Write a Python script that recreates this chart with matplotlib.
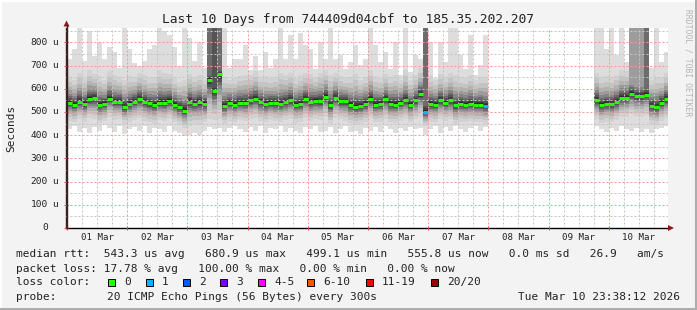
# smokeping style 10 day graph, redrawn with matplotlib
import matplotlib
matplotlib.use("Agg")
import matplotlib.pyplot as plt
import numpy as np
from matplotlib import transforms
from matplotlib.patches import Rectangle, Polygon
from matplotlib.lines import Line2D

nan = np.nan

# one value per 2 hour bin, hour 0 = 01 Mar 00:00 (12 bins per day)
median_us = [
    540, 532, 545, 535, 555, 560, 530, 535, 558, 545, 545, 520,
    535, 545, 555, 545, 537, 532, 540, 540, 548, 532, 520, 505,
    545, 536, 543, 535, 640, 590, 665, 525, 540, 532, 540, 540,
    550, 558, 543, 535, 540, 538, 535, 543, 550, 532, 535, 555,
    543, 548, 546, 565, 528, 560, 546, 546, 530, 522, 526, 535,
    555, 532, 535, 555, 535, 532, 540, 550, 532, 550, 576, 500,
    535, 532, 550, 540, 550, 528, 535, 532, 535, 532, 532, 525,
    nan, nan, nan, nan, nan, nan, nan, nan, nan, nan, nan, nan,
    nan, nan, nan, nan, nan, nan, nan, nan, nan, 550, 530, 535,
    533, 543, 560, 562, 578, 568, 568, 575, 525, 520, 540, 555,
]
# highest ping of each bin (outer smoke top)
max_us = [
    730, 770, 860, 720, 850, 740, 800, 730, 780, 760, 690, 860,
    770, 710, 700, 720, 770, 790, 860, 850, 830, 780, 700, 860,
    820, 720, 800, 690, 900, 900, 900, 862, 690, 730, 730, 790,
    680, 740, 680, 760, 690, 730, 862, 730, 830, 730, 840, 790,
    773, 687, 802, 730, 862, 730, 744, 687, 716, 787, 701, 730,
    862, 787, 716, 759, 687, 802, 659, 862, 673, 744, 730, 900,
    802, 645, 802, 716, 862, 862, 744, 687, 830, 659, 701, 830,
    nan, nan, nan, nan, nan, nan, nan, nan, nan, nan, nan, nan,
    nan, nan, nan, nan, nan, nan, nan, nan, nan, 862, 862, 773,
    862, 744, 862, 716, 900, 900, 900, 900, 690, 862, 716, 760,
]
# lowest ping of each bin (outer smoke bottom)
min_us = [
    425, 440, 415, 430, 410, 435, 420, 445, 430, 415, 440, 405,
    425, 435, 420, 440, 410, 430, 425, 415, 440, 420, 410, 395,
    400, 410, 400, 420, 435, 425, 430, 415, 430, 440, 425, 415,
    435, 420, 440, 410, 430, 425, 440, 415, 430, 420, 410, 435,
    425, 440, 415, 420, 435, 410, 425, 440, 415, 420, 405, 430,
    420, 435, 415, 440, 425, 410, 430, 420, 435, 425, 430, 400,
    425, 440, 410, 435, 420, 440, 425, 415, 430, 440, 420, 435,
    nan, nan, nan, nan, nan, nan, nan, nan, nan, nan, nan, nan,
    nan, nan, nan, nan, nan, nan, nan, nan, nan, 440, 425, 415,
    430, 420, 440, 425, 420, 430, 415, 425, 410, 425, 430, 440,
]
# spread of the bulk of the pings (second ping from top / bottom)
upper_us = [
    650, 640, 670, 645, 680, 665, 655, 640, 675, 660, 650, 640,
    655, 650, 670, 660, 645, 650, 680, 670, 665, 645, 630, 640,
    665, 650, 660, 640, 720, 700, 740, 650, 640, 645, 655, 660,
    660, 675, 650, 655, 645, 650, 670, 660, 670, 645, 660, 670,
    665, 650, 670, 680, 660, 670, 655, 645, 650, 665, 640, 650,
    680, 655, 645, 665, 650, 660, 640, 680, 640, 660, 690, 640,
    655, 640, 665, 650, 670, 660, 650, 645, 660, 640, 650, 650,
    nan, nan, nan, nan, nan, nan, nan, nan, nan, nan, nan, nan,
    nan, nan, nan, nan, nan, nan, nan, nan, nan, 670, 650, 655,
    650, 660, 680, 675, 690, 680, 680, 690, 640, 650, 645, 670,
]
lower_us = [
    462, 455, 470, 458, 475, 468, 452, 460, 478, 465, 470, 450,
    458, 466, 472, 462, 455, 450, 465, 460, 470, 455, 445, 430,
    440, 450, 445, 455, 470, 465, 470, 450, 462, 455, 465, 460,
    470, 475, 462, 455, 466, 460, 458, 465, 470, 452, 458, 475,
    462, 470, 465, 480, 450, 476, 468, 462, 452, 445, 450, 458,
    472, 455, 458, 470, 455, 452, 462, 470, 455, 468, 480, 440,
    458, 455, 470, 462, 468, 450, 458, 455, 460, 455, 455, 450,
    nan, nan, nan, nan, nan, nan, nan, nan, nan, nan, nan, nan,
    nan, nan, nan, nan, nan, nan, nan, nan, nan, 470, 452, 458,
    455, 465, 478, 480, 490, 482, 480, 488, 450, 445, 462, 472,
]
# pings per bin that went above the top of the graph
high_pings = [
    0, 0, 0, 0, 0, 0, 0, 0, 0, 0, 0, 0,
    0, 0, 0, 0, 0, 0, 0, 0, 0, 0, 0, 0,
    0, 0, 0, 0, 7, 8, 7, 0, 0, 0, 0, 0,
    0, 0, 0, 0, 0, 0, 0, 0, 0, 0, 0, 0,
    0, 0, 0, 0, 0, 0, 0, 0, 0, 0, 0, 0,
    0, 0, 0, 0, 0, 0, 0, 0, 0, 0, 0, 7,
    0, 0, 0, 0, 0, 0, 0, 0, 0, 0, 0, 0,
    0, 0, 0, 0, 0, 0, 0, 0, 0, 0, 0, 0,
    0, 0, 0, 0, 0, 0, 0, 0, 0, 0, 0, 0,
    0, 0, 0, 0, 5, 5, 5, 7, 0, 0, 0, 0,
]
# lost pings out of 20 per bin
loss = [
    0, 0, 0, 0, 0, 0, 0, 0, 0, 0, 0, 0,
    0, 0, 0, 0, 0, 0, 0, 0, 0, 0, 0, 0,
    0, 0, 0, 0, 0, 0, 0, 0, 0, 0, 0, 0,
    0, 0, 0, 0, 0, 0, 0, 0, 0, 0, 0, 0,
    0, 0, 0, 0, 0, 0, 0, 0, 0, 0, 0, 0,
    0, 0, 0, 0, 0, 0, 0, 0, 0, 0, 0, 1,
    0, 0, 0, 0, 0, 0, 0, 0, 0, 0, 0, 1,
    0, 0, 0, 0, 0, 0, 0, 0, 0, 0, 0, 0,
    0, 0, 0, 0, 0, 0, 0, 0, 0, 0, 0, 0,
    0, 0, 0, 0, 0, 0, 0, 0, 0, 0, 0, 0,
]

day_labels = ["01 Mar", "02 Mar", "03 Mar", "04 Mar", "05 Mar",
              "06 Mar", "07 Mar", "08 Mar", "09 Mar", "10 Mar"]
y_ticks = [0, 100, 200, 300, 400, 500, 600, 700, 800]

loss_names = ["0", "1", "2", "3", "4-5", "6-10", "11-19", "20/20"]
loss_colors = ["#26FF00", "#00B8FF", "#0059FF", "#7E00FF",
               "#FF00FF", "#FF5500", "#FF0000", "#A10000"]

title = "Last 10 Days from 744409d04cbf to 185.35.202.207"
rtt_line = "median rtt:  543.3 us avg   680.9 us max   499.1 us min   555.8 us now   0.0 ms sd   26.9   am/s"
loss_line = "packet loss: 17.78 % avg   100.00 % max   0.00 % min   0.00 % now"
probe_text = "20 ICMP Echo Pings (56 Bytes) every 300s"
stamp = "Tue Mar 10 23:38:12 2026"

MONO = "DejaVu Sans Mono"
W, H = 697, 310
YTOP = 862


def fx(px):
    return px / W


def fy(py):
    return 1 - py / H


def loss_index(n):
    if n <= 3:
        return int(n)
    if n <= 5:
        return 4
    if n <= 10:
        return 5
    if n <= 19:
        return 6
    return 7


fig = plt.figure(figsize=(W / 100, H / 100), dpi=100)
fig.patch.set_facecolor("#F3F3F3")
ax = fig.add_axes([fx(66), fy(228), 602 / W, 200 / H])
ax.set_facecolor("white")

med = np.array(median_us, dtype=float)
hi = np.array(max_us, dtype=float)
lo = np.array(min_us, dtype=float)
up = np.array(upper_us, dtype=float)
dn = np.array(lower_us, dtype=float)
high = np.array(high_pings)
starts = np.arange(len(med)) * 2.0
ok = ~np.isnan(med)

# smoke: outer band first, then darker bands toward the median
ax.bar(starts[ok], (hi - lo)[ok], bottom=lo[ok], width=2, align="edge",
       color="#DDDDDD", linewidth=0, antialiased=False, zorder=1)
fracs = [1.0, 0.8, 0.62, 0.48, 0.36, 0.26, 0.18, 0.11, 0.06]
shades = ["#D2D2D2", "#C4C4C4", "#B2B2B2", "#9C9C9C", "#858585",
          "#6C6C6C", "#545454", "#3E3E3E", "#2A2A2A"]
for b, (r, c) in enumerate(zip(fracs, shades), start=1):
    top = med + (up - med) * r
    top = np.where(high > b, YTOP + 40, top)
    bot = med - (med - dn) * r
    ax.bar(starts[ok], (top - bot)[ok], bottom=bot[ok], width=2, align="edge",
           color=c, linewidth=0, antialiased=False, zorder=2)

cols = [loss_colors[loss_index(n)] for n in loss]
cols = [c for c, v in zip(cols, ok) if v]
ax.hlines(med[ok], starts[ok], starts[ok] + 2, colors=cols, linewidth=2.2,
          zorder=5)

ax.set_xlim(-0.37, 239.63)
ax.set_ylim(0, YTOP)

ax.set_xticks(np.arange(0, 240, 24))
ax.set_xticks(np.arange(0, 240, 6), minor=True)
ax.set_yticks(y_ticks)
ax.set_yticks(np.arange(0, YTOP, 50), minor=True)
ax.set_xticklabels([])
ax.set_yticklabels([])
ax.tick_params(which="major", length=3, width=0.7, color="#D05050",
               direction="inout")
ax.tick_params(which="minor", length=0)
ax.set_axisbelow(False)
ax.grid(which="major", color="#F29A9A", linestyle=(0, (2, 2)), linewidth=0.72)
ax.grid(which="minor", color="#C4C4C4", linestyle=(0, (2, 2)), linewidth=0.72)

for s in ["top", "right"]:
    ax.spines[s].set_visible(False)
ax.spines["left"].set_color("#3A2020")
ax.spines["bottom"].set_color("#000000")
ax.spines["left"].set_linewidth(1.0)
ax.spines["bottom"].set_linewidth(1.0)

# axis extensions and arrows
fig.add_artist(Line2D([fx(66.5), fx(66.5)], [fy(228), fy(25)],
                      color="#3A2020", lw=1.0))
fig.add_artist(Polygon([[fx(63.5), fy(26.5)], [fx(69.5), fy(26.5)], [fx(66.5), fy(20.5)]],
                       closed=True, color="#8B1A1A", lw=0))
fig.add_artist(Polygon([[fx(668), fy(225)], [fx(668), fy(231)], [fx(674), fy(228)]],
                       closed=True, color="#8B1A1A", lw=0))

# tick labels
ty = transforms.blended_transform_factory(fig.transFigure, ax.transData)
for v in y_ticks:
    fig.text(fx(48), v, str(v), transform=ty, ha="right", va="center",
             family=MONO, fontsize=6.8, color="#222222")
    if v:
        fig.text(fx(52.5), v, "u", transform=ty, ha="left", va="center",
                 family=MONO, fontsize=6.8, color="#222222")
tx = transforms.blended_transform_factory(ax.transData, fig.transFigure)
for i, lab in enumerate(day_labels):
    fig.text(12 + 24 * i, fy(237.5), lab, transform=tx, ha="center",
             va="center", family=MONO, fontsize=6.6, color="#222222")

fig.text(fx(11), fy(128), "Seconds", rotation=90, ha="center", va="center",
         family=MONO, fontsize=8, color="#222222")
fig.text(fx(347.5), fy(19), title, ha="center", va="center",
         family=MONO, fontsize=9.3, color="#222222")
fig.text(fx(688), fy(63), "RRDTOOL / TOBI OETIKER", rotation=270,
         ha="center", va="center", family=MONO, fontsize=5.8, color="#B4B4B4")

# legend
fig.text(fx(16), fy(254), rtt_line, ha="left", va="center", family=MONO,
         fontsize=8, color="#222222")
fig.text(fx(16), fy(268.5), loss_line, ha="left", va="center", family=MONO,
         fontsize=8, color="#222222")
fig.text(fx(16), fy(282), "loss color:", ha="left", va="center", family=MONO,
         fontsize=8, color="#222222")
box_x = [108, 146, 183, 220, 258, 307, 366, 431]
for bx, name, c in zip(box_x, loss_names, loss_colors):
    fig.add_artist(Rectangle((fx(bx), fy(285.5)), 7 / W, 7 / H,
                             facecolor=c, edgecolor="black", lw=0.7))
    fig.text(fx(bx + 16), fy(282), name, ha="left", va="center", family=MONO,
             fontsize=8, color="#222222")
fig.text(fx(16), fy(296.5), "probe:", ha="left", va="center", family=MONO,
         fontsize=8, color="#222222")
fig.text(fx(107), fy(296.5), probe_text, ha="left", va="center", family=MONO,
         fontsize=8, color="#222222")
fig.text(fx(680), fy(296.5), stamp, ha="right", va="center", family=MONO,
         fontsize=8, color="#222222")

# 3d frame
fig.add_artist(Line2D([0, 1], [fy(0.5), fy(0.5)], color="#FFFFFF", lw=1.4))
fig.add_artist(Line2D([fx(0.5), fx(0.5)], [0, 1], color="#FFFFFF", lw=1.4))
fig.add_artist(Line2D([0, 1], [fy(308.5), fy(308.5)], color="#ADADAD", lw=2.2))
fig.add_artist(Line2D([fx(695.5), fx(695.5)], [0, 1], color="#ADADAD", lw=2.2))

fig.savefig("out.png", dpi=100, facecolor=fig.get_facecolor())
